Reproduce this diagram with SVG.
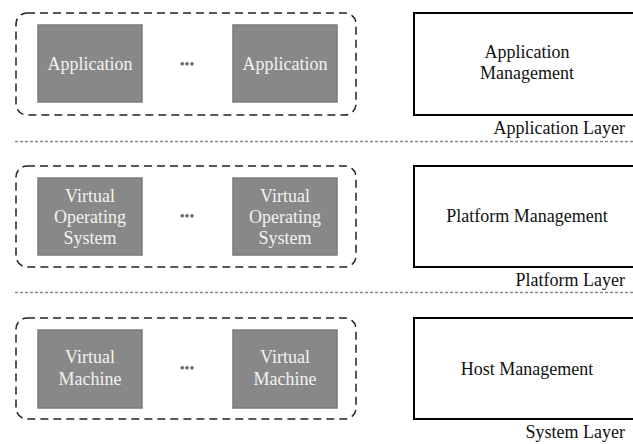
<svg xmlns="http://www.w3.org/2000/svg" width="633" height="444" viewBox="0 0 633 444">
<style>
.grp{fill:none;stroke:#222;stroke-width:1.5;stroke-dasharray:8 5}
.vm{fill:#888;stroke:#7a7a7a;stroke-width:1.5}
.mg{fill:#fff;stroke:#000;stroke-width:2}
.sep{stroke:#888;stroke-width:1.5;stroke-dasharray:3 2}
text{font-size:18px;text-anchor:middle}
.wt{fill:#f2f2f2}
.bk{fill:#111}
.lay{text-anchor:end}
.dots{fill:#666;font-size:14px}
</style>
<g font-family="'Liberation Serif', 'Times New Roman', 'DejaVu Serif', serif">
<g id="separators">
<line class="sep" x1="15" y1="141.5" x2="633" y2="141.5"/>
<line class="sep" x1="15" y1="292.5" x2="633" y2="292.5"/>
</g>
<g id="app-group">
<rect class="grp" x="16" y="13" width="340" height="102" rx="11"/>
<g id="app1"><rect class="vm" x="38" y="25" width="104" height="77"/><text class="wt" x="90" y="70">Application</text></g>
<text class="dots" x="187" y="69">•••</text>
<g id="app2"><rect class="vm" x="233" y="25" width="104" height="77"/><text class="wt" x="285" y="70">Application</text></g>
</g>
<g id="app-mgmt"><rect class="mg" x="414" y="13" width="226" height="102"/><text class="bk" x="527" y="58">Application</text><text class="bk" x="527" y="79">Management</text></g>
<text class="bk lay" x="625" y="134">Application Layer</text>
<g id="plat-group">
<rect class="grp" x="16" y="166" width="340" height="101" rx="11"/>
<g id="vos1"><rect class="vm" x="38" y="178" width="104" height="77"/><text class="wt" x="90" y="202">Virtual</text><text class="wt" x="90" y="223">Operating</text><text class="wt" x="90" y="244">System</text></g>
<text class="dots" x="187" y="221">•••</text>
<g id="vos2"><rect class="vm" x="233" y="178" width="104" height="77"/><text class="wt" x="285" y="202">Virtual</text><text class="wt" x="285" y="223">Operating</text><text class="wt" x="285" y="244">System</text></g>
</g>
<g id="plat-mgmt"><rect class="mg" x="414" y="166" width="226" height="101"/><text class="bk" x="527" y="222">Platform Management</text></g>
<text class="bk lay" x="625" y="286">Platform Layer</text>
<g id="sys-group">
<rect class="grp" x="16" y="318" width="340" height="101" rx="11"/>
<g id="vm1"><rect class="vm" x="38" y="330" width="104" height="78"/><text class="wt" x="90" y="363">Virtual</text><text class="wt" x="90" y="385">Machine</text></g>
<text class="dots" x="187" y="373">•••</text>
<g id="vm2"><rect class="vm" x="233" y="330" width="104" height="78"/><text class="wt" x="285" y="363">Virtual</text><text class="wt" x="285" y="385">Machine</text></g>
</g>
<g id="host-mgmt"><rect class="mg" x="414" y="318" width="226" height="101"/><text class="bk" x="527" y="375">Host Management</text></g>
<text class="bk lay" x="625" y="438">System Layer</text>
</g>
</svg>
